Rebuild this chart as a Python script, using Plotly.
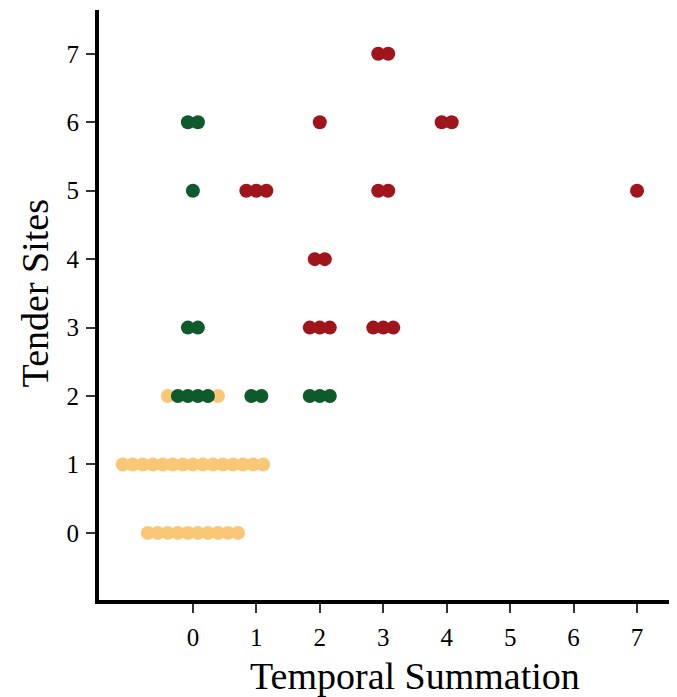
import plotly.graph_objects as go

# Data: each cell = (temporal summation, tender sites, count) per group
groups = ["Low", "Medium", "High"]
colors = ["#F9C876", "#0E5A2A", "#A0151B"]

low_x = [0, 0, 0]
low_y = [0, 1, 2]
low_n = [10, 15, 2]

med_x = [0, 0, 0, 0, 1, 2]
med_y = [6, 5, 3, 2, 2, 2]
med_n = [2, 1, 2, 4, 2, 3]

high_x = [3, 2, 4, 1, 3, 7, 2, 2, 3]
high_y = [7, 6, 6, 5, 5, 5, 4, 3, 3]
high_n = [2, 1, 2, 3, 2, 1, 2, 3, 3]

x_ticks = [0, 1, 2, 3, 4, 5, 6, 7]
y_ticks = [0, 1, 2, 3, 4, 5, 6, 7]
x_title = "Temporal Summation"
y_title = "Tender Sites"

# Beeswarm-style horizontal spreading of stacked points in the same cell
step = 0.158
cells = {}
series = [(low_x, low_y, low_n), (med_x, med_y, med_n), (high_x, high_y, high_n)]
# placement priority: medium first (centre), then high, then low (outermost)
priority = [2, 0, 1]
for gi, (xs, ys, ns) in enumerate(series):
    for x, y, n in zip(xs, ys, ns):
        cells.setdefault((x, y), []).append((gi, n))

pts = {0: ([], []), 1: ([], []), 2: ([], [])}
for (x, y), entries in cells.items():
    total = sum(n for _, n in entries)
    slots = [i - (total - 1) / 2 for i in range(total)]
    slots_sorted = sorted(slots, key=lambda s: (abs(s), s))
    entries = sorted(entries, key=lambda e: priority[e[0]])
    k = 0
    for gi, n in entries:
        for _ in range(n):
            pts[gi][0].append(x + slots_sorted[k] * step)
            pts[gi][1].append(y)
            k += 1

fig = go.Figure()
for gi in range(3):
    fig.add_trace(go.Scatter(
        x=pts[gi][0], y=pts[gi][1], mode="markers", name=groups[gi],
        marker=dict(size=14, color=colors[gi], line=dict(width=0)),
        showlegend=False,
    ))

font_family = "Liberation Serif"
fig.update_layout(
    width=669, height=689,
    margin=dict(l=91, r=0, t=2, b=97, autoexpand=False),
    plot_bgcolor="white", paper_bgcolor="white",
    font=dict(family=font_family, color="black"),
    xaxis=dict(
        range=[-1.48, 7.63], tickvals=x_ticks, showgrid=False, zeroline=False,
        showline=True, linecolor="black", linewidth=4,
        ticks="outside", ticklen=9, tickwidth=2, tickcolor="#333",
        tickfont=dict(size=25, family=font_family),
        ticklabelstandoff=3, automargin=False,
    ),
    yaxis=dict(
        range=[-0.98, 7.64], tickvals=y_ticks, showgrid=False, zeroline=False,
        showline=True, linecolor="black", linewidth=4,
        ticks="outside", ticklen=9, tickwidth=2, tickcolor="#333",
        tickfont=dict(size=25, family=font_family),
        ticklabelstandoff=2, automargin=False,
    ),
    annotations=[
        dict(text=x_title, xref="x", yref="paper",
             x=(x_ticks[0] + x_ticks[-1]) / 2, y=-0.1295,
             xanchor="center", yanchor="middle", showarrow=False,
             font=dict(size=38, family=font_family, color="black")),
        dict(text=y_title, xref="paper", yref="y",
             x=-0.1107, y=(y_ticks[0] + y_ticks[-1]) / 2, textangle=-90,
             xanchor="center", yanchor="middle", showarrow=False,
             font=dict(size=38, family=font_family, color="black")),
    ],
)
fig.write_html("out.html")
